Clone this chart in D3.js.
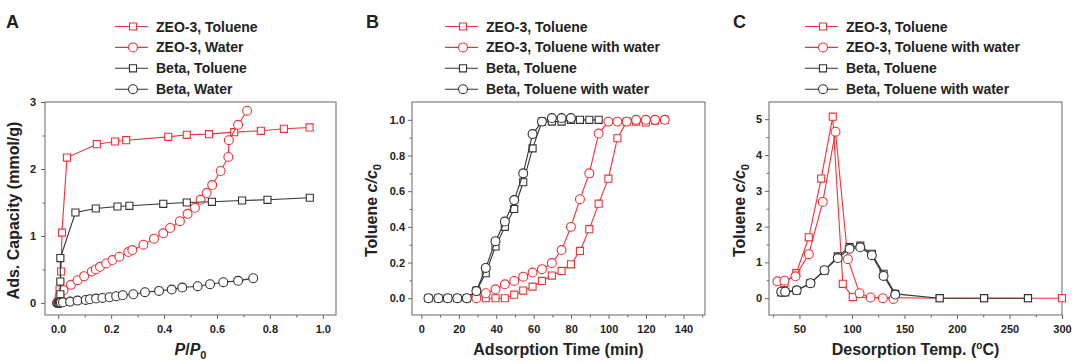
<!DOCTYPE html>
<html>
<head>
<meta charset="utf-8">
<script src="https://cdn.jsdelivr.net/npm/d3@7"></script>
<style>
  body { margin: 0; background: #fff; }
  svg { display: block; }
  text { font-family: "Liberation Sans", Arial, sans-serif; font-weight: bold; fill: #222; }
</style>
</head>
<body>
<div class="canvas"></div>
<script>
// ---- data ----
// A: adsorption isotherms, [P/P0, mmol/g]
const aZeoToluene = [[0.001,0.03],[0.005,0.2],[0.011,0.47],[0.014,1.05],[0.033,2.17],[0.146,2.37],[0.215,2.41],[0.257,2.43],[0.416,2.48],[0.486,2.51],[0.57,2.52],[0.665,2.55],[0.766,2.57],[0.853,2.60],[0.95,2.62]];
const aZeoWater = [[-0.004,0.0],[0.005,0.1],[0.02,0.19],[0.048,0.27],[0.073,0.34],[0.098,0.40],[0.127,0.47],[0.142,0.50],[0.158,0.54],[0.181,0.59],[0.205,0.64],[0.231,0.69],[0.265,0.76],[0.28,0.79],[0.322,0.87],[0.362,0.96],[0.397,1.04],[0.423,1.12],[0.46,1.22],[0.489,1.33],[0.517,1.42],[0.538,1.54],[0.561,1.64],[0.582,1.76],[0.614,1.97],[0.643,2.18],[0.645,2.43],[0.68,2.66],[0.714,2.87]];
const aBetaToluene = [[0.0,0.0],[0.008,0.13],[0.008,0.32],[0.008,0.67],[0.065,1.35],[0.142,1.41],[0.224,1.44],[0.269,1.45],[0.397,1.48],[0.486,1.50],[0.581,1.51],[0.695,1.53],[0.791,1.54],[0.951,1.57]];
const aBetaWater = [[-0.004,0.0],[0.0,0.0],[0.003,0.0],[0.006,0.005],[0.01,0.008],[0.018,0.01],[0.045,0.02],[0.073,0.035],[0.104,0.045],[0.12,0.055],[0.143,0.065],[0.167,0.075],[0.194,0.085],[0.219,0.10],[0.244,0.115],[0.284,0.13],[0.328,0.16],[0.381,0.18],[0.429,0.20],[0.469,0.23],[0.527,0.25],[0.574,0.28],[0.624,0.31],[0.68,0.33],[0.737,0.37]];

// B: breakthrough curves, [min, c/c0]
const bZeoToluene = [[34.4,0],[39.6,0],[44.6,0],[49.6,0.02],[54.4,0.043],[59.4,0.065],[64.4,0.097],[69.7,0.127],[74.9,0.153],[79.9,0.19],[84.7,0.265],[89.7,0.387],[94.7,0.53],[99.9,0.67],[104.7,0.897],[109.7,0.99],[114.7,0.99],[119.9,0.985],[124.8,0.995],[130,1.0]];
const bZeoWater = [[29.4,0],[34.4,0.028],[39.6,0.05],[44.6,0.078],[49.6,0.097],[54.4,0.121],[59.4,0.144],[64.4,0.163],[69.7,0.197],[74.9,0.27],[79.9,0.40],[84.7,0.555],[89.7,0.70],[94.7,0.923],[99.9,0.99],[104.7,0.99],[109.7,0.99],[114.7,1.0],[119.9,1.0],[124.8,1.0],[130,1.0]];
const bBetaToluene = [[3.8,0],[9.1,0],[14.1,0],[19.2,0],[24.3,0],[29.4,0.043],[34.4,0.14],[39.6,0.29],[44.6,0.40],[49.6,0.50],[54.4,0.65],[59.4,0.84],[64.4,0.99],[69.7,0.99],[74.9,0.99],[79.9,1.0],[84.7,1.0],[89.7,1.0],[94.7,1.0]];
const bBetaWater = [[3.8,0],[9.1,0],[14.1,0],[19.2,0],[24.3,0],[29.4,0.04],[34.4,0.17],[39.6,0.32],[44.6,0.43],[49.6,0.55],[54.4,0.70],[59.4,0.92],[64.4,0.99],[69.7,1.01],[74.9,1.01],[79.9,1.01]];

// C: TPD desorption, [degC, c/c0]
const cZeoToluene = [[35.7,0.42],[46.9,0.70],[58.9,1.70],[70.7,3.34],[81.7,5.07],[91.3,0.40],[100.8,0.03],[183.5,0],[225.8,0],[267.6,0],[300,0]];
const cZeoWater = [[29,0.47],[35.7,0.49],[46.2,0.61],[58.9,1.23],[72.2,2.69],[84.3,4.65],[96.1,1.09],[107.2,0.14],[117.7,0.02],[129.4,0],[139.5,-0.02]];
const cBetaToluene = [[32.6,0.16],[36.4,0.16],[47.4,0.21],[60.5,0.42],[73.8,0.77],[86.5,1.17],[97.7,1.43],[107.9,1.47],[118.9,1.24],[130.1,0.68],[141.2,0.12],[183.5,0],[225.8,0],[267.6,0]];
const cBetaWater = [[32.6,0.18],[36.4,0.18],[47.4,0.22],[60.5,0.42],[73.8,0.78],[86.5,1.12],[97.7,1.38],[107.9,1.42],[118.9,1.20],[130.1,0.62],[141.2,0.10]];

const legendA = ['ZEO-3, Toluene', 'ZEO-3, Water', 'Beta, Toluene', 'Beta, Water'];
const legendBC = ['ZEO-3, Toluene', 'ZEO-3, Toluene with water', 'Beta, Toluene', 'Beta, Toluene with water'];

const ticksAx = [0, 0.2, 0.4, 0.6, 0.8, 1.0];
const ticksAy = [0, 1, 2, 3];
const ticksBx = [0, 20, 40, 60, 80, 100, 120, 140];
const ticksBy = [0, 0.2, 0.4, 0.6, 0.8, 1.0];
const ticksCx = [50, 100, 150, 200, 250, 300];
const ticksCy = [0, 1, 2, 3, 4, 5];

// ---- drawing ----
const RED = '#ee3338';
const DARK = '#333';
const seriesStyle = [
    { color: RED, shape: d3.symbolSquare, size: 50 },
    { color: RED, shape: d3.symbolCircle, size: 62 },
    { color: DARK, shape: d3.symbolSquare, size: 50 },
    { color: DARK, shape: d3.symbolCircle, size: 62 }
];

const svg = d3.select('.canvas')
    .append('svg')
    .attr('width', 1080)
    .attr('height', 363);

function drawPanel(p) {
    const g = svg.append('g');
    const x = d3.scaleLinear().domain(p.xDom).range([p.left, p.right]);
    const y = d3.scaleLinear().domain(p.yDom).range([p.bottom, p.top]);

    // frame
    g.append('rect')
        .attr('x', p.left).attr('y', p.top)
        .attr('width', p.right - p.left).attr('height', p.bottom - p.top)
        .attr('fill', 'none').attr('stroke', '#666').attr('stroke-width', 1);

    // minor ticks
    g.append('g')
        .attr('transform', `translate(0, ${p.bottom})`)
        .call(d3.axisBottom(x).tickValues(p.xMinor).tickSize(2.5).tickFormat(''))
        .call(a => a.select('.domain').remove());
    g.append('g')
        .attr('transform', `translate(${p.left}, 0)`)
        .call(d3.axisLeft(y).tickValues(p.yMinor).tickSize(2.5).tickFormat(''))
        .call(a => a.select('.domain').remove());

    // major ticks + labels
    const xAxisGroup = g.append('g')
        .attr('transform', `translate(0, ${p.bottom})`)
        .call(d3.axisBottom(x).tickValues(p.xTicks).tickSize(4).tickPadding(6).tickFormat(d3.format(p.xFmt)));
    const yAxisGroup = g.append('g')
        .attr('transform', `translate(${p.left}, 0)`)
        .call(d3.axisLeft(y).tickValues(p.yTicks).tickSize(4).tickPadding(p.yPad).tickFormat(d3.format(p.yFmt)));

    [xAxisGroup, yAxisGroup].forEach(ax => {
        ax.select('.domain').remove();
        ax.selectAll('text').attr('font-size', 11).attr('fill', '#333');
    });
    g.selectAll('.tick line').attr('stroke', '#666');

    // series
    const line = d3.line().x(d => x(d[0])).y(d => y(d[1]));
    p.series.forEach((s, i) => {
        const st = seriesStyle[i];
        g.append('path')
            .datum(s)
            .attr('d', line)
            .attr('fill', 'none')
            .attr('stroke', st.color)
            .attr('stroke-width', 1.1);
        g.selectAll(null)
            .data(s)
            .enter()
            .append('path')
            .attr('d', d3.symbol().type(st.shape).size(st.size))
            .attr('transform', d => `translate(${x(d[0])}, ${y(d[1])})`)
            .attr('fill', '#fff')
            .attr('stroke', st.color)
            .attr('stroke-width', 1.1);
    });

    // legend
    p.legend.forEach((label, i) => {
        const st = seriesStyle[i];
        const cy = 26.5 + i * 20.9;
        g.append('line')
            .attr('x1', p.legX).attr('x2', p.legX + 33)
            .attr('y1', cy).attr('y2', cy)
            .attr('stroke', st.color).attr('stroke-width', 1.1);
        g.append('path')
            .attr('d', d3.symbol().type(st.shape).size(st.size))
            .attr('transform', `translate(${p.legX + 18}, ${cy})`)
            .attr('fill', '#fff').attr('stroke', st.color).attr('stroke-width', 1.1);
        g.append('text')
            .attr('x', p.legX + 41).attr('y', cy + 5)
            .attr('font-size', 14)
            .text(label);
    });

    // panel letter
    g.append('text')
        .attr('x', p.letterX).attr('y', 28)
        .attr('font-size', 18)
        .style('font-family', '"Liberation Sans Narrow", "Liberation Sans", sans-serif')
        .text(p.letter);

    // axis titles
    const xt = g.append('text')
        .attr('x', (p.left + p.right) / 2).attr('y', 355)
        .attr('text-anchor', 'middle')
        .attr('font-size', 16);
    p.xTitle(xt);

    const yt = g.append('text')
        .attr('transform', `translate(${p.yTitleX}, ${(p.top + p.bottom) / 2 + 2}) rotate(-90)`)
        .attr('text-anchor', 'middle')
        .attr('font-size', 16);
    p.yTitle(yt);
}

function cOverC0(t) {
    t.append('tspan').text('Toluene ');
    t.append('tspan').style('font-style', 'italic').text('c/c');
    t.append('tspan').attr('font-size', 11).attr('dy', 4).text('0');
}

drawPanel({
    letter: 'A', letterX: 6,
    left: 45, right: 336, top: 102, bottom: 315,
    xDom: [-0.05, 1.05], yDom: [-0.18, 3],
    xTicks: ticksAx, yTicks: ticksAy,
    xMinor: d3.range(0.1, 1.01, 0.2), yMinor: [0.5, 1.5, 2.5],
    xFmt: '.1f', yFmt: 'd', yPad: 5,
    series: [aZeoToluene, aZeoWater, aBetaToluene, aBetaWater],
    legend: legendA, legX: 115,
    xTitle: t => {
        t.append('tspan').style('font-style', 'italic').text('P');
        t.append('tspan').text('/');
        t.append('tspan').style('font-style', 'italic').text('P');
        t.append('tspan').attr('font-size', 11).attr('dy', 4).text('0');
    },
    yTitleX: 18.5,
    yTitle: t => t.text('Ads. Capacity (mmol/g)')
});

drawPanel({
    letter: 'B', letterX: 366,
    left: 412, right: 705, top: 102, bottom: 315,
    xDom: [-5, 151.5], yDom: [-0.094, 1.1],
    xTicks: ticksBx, yTicks: ticksBy,
    xMinor: d3.range(10, 151, 20), yMinor: [0.1, 0.3, 0.5, 0.7, 0.9],
    xFmt: 'd', yFmt: '.1f', yPad: 3,
    series: [bZeoToluene, bZeoWater, bBetaToluene, bBetaWater],
    legend: legendBC, legX: 445,
    xTitle: t => t.text('Adsorption Time (min)'),
    yTitleX: 377,
    yTitle: cOverC0
});

drawPanel({
    letter: 'C', letterX: 733,
    left: 769, right: 1062, top: 102, bottom: 315,
    xDom: [21, 300], yDom: [-0.47, 5.48],
    xTicks: ticksCx, yTicks: ticksCy,
    xMinor: [25, 75, 125, 175, 225, 275], yMinor: [0.5, 1.5, 2.5, 3.5, 4.5],
    xFmt: 'd', yFmt: 'd', yPad: 3,
    series: [cZeoToluene, cZeoWater, cBetaToluene, cBetaWater],
    legend: legendBC, legX: 805,
    xTitle: t => {
        t.append('tspan').text('Desorption Temp. (');
        t.append('tspan').attr('font-size', 10).attr('dy', -6).text('o');
        t.append('tspan').attr('dy', 6).text('C)');
    },
    yTitleX: 745,
    yTitle: cOverC0
});
</script>
</body>
</html>
